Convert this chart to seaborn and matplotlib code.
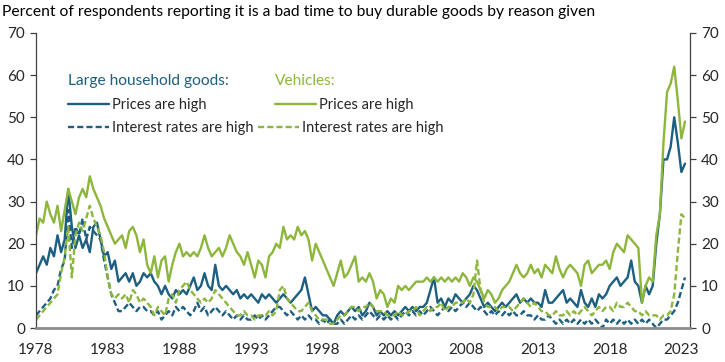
import numpy as np
import pandas as pd
import matplotlib
matplotlib.use("Agg")
import matplotlib.pyplot as plt
import seaborn as sns
from matplotlib.lines import Line2D
from matplotlib.legend import Legend

# ---------------- data (quarterly readings, 1978 Q1 .. 2023 Q2) ----------------
start_year = 1978
hh_prices = [
    13, 15, 17, 15,  19, 17, 22, 18,  21, 33, 24, 19,  22, 19, 21, 18,  24, 25, 21, 17,   # 1978-82
    18, 14, 16, 11,  12, 13, 11, 13,  10, 11, 13, 12,  13, 11, 10, 8,   10, 8, 7, 9,      # 1983-87
    8, 9, 8, 10,     12, 9, 10, 13,   10, 9, 15, 10,   9, 10, 9, 8,     9, 7, 8, 7,       # 1988-92
    8, 7, 6, 8,      7, 8, 7, 6,      7, 8, 7, 6,      7, 8, 9, 12,     8, 4, 5, 4,       # 1993-97
    3, 3, 2, 1,      3, 4, 3, 4,      5, 4, 5, 3,      4, 6, 5, 3,      4, 3, 4, 3,       # 1998-02
    4, 3, 4, 5,      4, 5, 4, 5,      5, 6, 9, 12,     6, 7, 5, 7,      6, 8, 7, 6,       # 2003-07
    7, 8, 10, 9,     7, 5, 6, 5,      4, 5, 6, 5,      6, 7, 8, 6,      7, 6, 7, 6,       # 2008-12
    6, 5, 9, 6,      6, 7, 8, 9,      6, 7, 6, 5,      9, 6, 5, 7,      5, 8, 7, 8,       # 2013-17
    10, 11, 12, 10,  11, 12, 16, 11,  10, 6, 10, 8,    10, 20, 27, 40,  40, 43, 50, 44,   # 2018-22
    37, 39,                                                                              # 2023
]
hh_rates = [
    3, 4, 5, 6,      7, 9, 10, 14,    16, 28, 19, 24,  22, 26, 21, 24,  23, 22, 21, 16,
    12, 8, 6, 4,     4, 5, 6, 5,      4, 5, 5, 4,      4, 3, 4, 2,      3, 4, 3, 5,
    4, 5, 4, 3,      4, 6, 4, 5,      3, 4, 5, 4,      3, 4, 3, 2,      3, 2, 3, 2,
    2, 3, 2, 3,      2, 3, 4, 5,      5, 4, 3, 4,      3, 2, 3, 2,      3, 2, 2, 1,
    2, 1, 2, 1,      1, 2, 1, 2,      3, 2, 3, 2,      3, 4, 3, 2,      3, 2, 3, 2,
    3, 2, 3, 4,      3, 4, 3, 4,      3, 4, 5, 4,      3, 4, 5, 4,      5, 4, 5, 6,
    5, 6, 5, 4,      5, 4, 3, 4,      3, 4, 3, 4,      3, 4, 3, 3,      4, 3, 3, 2,
    3, 2, 2, 3,      2, 1, 2, 1,      2, 1, 2, 1,      2, 1, 2, 1,      2, 1, 0, 2,
    1, 2, 1, 2,      1, 2, 1, 2,      1, 2, 1, 2,      1, 0, 1, 2,      2, 3, 4, 6,
    9, 12,
]
veh_prices = [
    22, 26, 25, 30,  27, 25, 29, 23,  28, 33, 30, 27,  31, 33, 31, 36,  33, 31, 29, 26,
    24, 22, 20, 21,  22, 19, 23, 24,  22, 18, 21, 15,  13, 17, 12, 16,  17, 11, 15, 18,
    20, 17, 18, 17,  18, 17, 19, 22,  19, 17, 18, 19,  17, 19, 22, 20,  18, 17, 15, 18,
    15, 12, 16, 15,  12, 17, 18, 20,  19, 24, 21, 22,  21, 24, 22, 23,  21, 16, 20, 18,
    16, 14, 12, 10,  13, 16, 12, 13,  15, 17, 11, 12,  11, 13, 11, 7,   9, 8, 5, 7,
    6, 10, 9, 10,    9, 10, 11, 11,   11, 12, 11, 12,  11, 12, 11, 12,  11, 12, 11, 13,
    12, 10, 12, 11,  9, 7, 9, 8,      6, 7, 9, 10,     11, 13, 15, 13,  12, 13, 15, 13,
    14, 12, 15, 14,  13, 17, 14, 12,  14, 15, 14, 13,  10, 15, 16, 13,  14, 15, 15, 16,
    14, 18, 20, 19,  18, 22, 21, 20,  19, 6, 10, 12,   11, 22, 27, 44,  56, 58, 62, 54,
    45, 49,
]
veh_rates = [
    2, 3, 4, 5,      6, 7, 8, 13,     17, 24, 12, 22,  25, 23, 26, 29,  26, 24, 22, 18,
    12, 8, 7, 8,     7, 8, 6, 9,      8, 6, 7, 6,      5, 3, 5, 4,      3, 7, 8, 6,
    9, 10, 11, 9,    8, 7, 6, 7,      6, 7, 9, 8,      7, 6, 5, 4,      3, 3, 4, 3,
    3, 2, 3, 3,      3, 4, 3, 4,      9, 10, 7, 6,     5, 4, 4, 5,      6, 4, 3, 2,
    2, 2, 1, 1,      2, 3, 3, 4,      5, 5, 4, 5,      5, 6, 5, 4,      4, 4, 3, 3,
    3, 4, 3, 3,      4, 4, 5, 3,      4, 5, 4, 5,      5, 6, 4, 5,      5, 6, 6, 6,
    7, 6, 8, 16,     9, 6, 5, 5,      5, 4, 5, 5,      5, 4, 5, 6,      7, 6, 5, 6,
    5, 4, 4, 3,      3, 4, 3, 3,      4, 3, 4, 3,      4, 5, 4, 3,      4, 5, 4, 5,
    5, 4, 6, 5,      5, 6, 5, 4,      4, 3, 4, 3,      3, 3, 2, 3,      3, 4, 8, 18,
    27, 26,
]
x_tick_years = [1978, 1983, 1988, 1993, 1998, 2003, 2008, 2013, 2018, 2023]
y_ticks = [0, 10, 20, 30, 40, 50, 60, 70]

title = "Percent of respondents reporting it is a bad time to buy durable goods by reason given"
group_titles = ["Large household goods:", "Vehicles:"]
labels = ["Prices are high", "Interest rates are high"]

n = len(hh_prices)
assert n == len(hh_rates) == len(veh_prices) == len(veh_rates)
dates = start_year + np.arange(n) / 4.0

df = pd.concat([
    pd.DataFrame({"year": dates, "value": hh_prices, "series": "hh_prices"}),
    pd.DataFrame({"year": dates, "value": hh_rates, "series": "hh_rates"}),
    pd.DataFrame({"year": dates, "value": veh_prices, "series": "veh_prices"}),
    pd.DataFrame({"year": dates, "value": veh_rates, "series": "veh_rates"}),
])

# ---------------- style ----------------
sns.set_style("white")
plt.rcParams["font.family"] = ["Lato", "DejaVu Sans"]
BLUE = "#1d5f80"
GREEN = "#8cb63c"
LW = 1.7
DASH = (0, (2.6, 1.3))

fig = plt.figure(figsize=(7.25, 3.62), dpi=100)
ax = fig.add_axes([36 / 725, 1 - 328 / 362, (690 - 36) / 725, 295 / 362])

styles = {
    "hh_prices": dict(color=BLUE, linestyle="-"),
    "hh_rates": dict(color=BLUE, linestyle=DASH),
    "veh_prices": dict(color=GREEN, linestyle="-"),
    "veh_rates": dict(color=GREEN, linestyle=DASH),
}
for key in ["hh_prices", "hh_rates", "veh_prices", "veh_rates"]:
    sns.lineplot(data=df[df["series"] == key], x="year", y="value", ax=ax,
                 lw=LW, legend=False, **styles[key])

ax.set_xlim(1978, 2023.6)
ax.set_ylim(0, 70)
ax.set_xticks(x_tick_years)
ax.set_xticklabels([str(y) for y in x_tick_years])
ax.set_yticks(y_ticks)
ax.set_xlabel("")
ax.set_ylabel("")

ax.spines["top"].set_visible(False)
for s in ["left", "right"]:
    ax.spines[s].set_color("#404040")
    ax.spines[s].set_linewidth(0.9)
ax.spines["bottom"].set_color("#8c8c8c")
ax.spines["bottom"].set_linewidth(2.0)

ax.tick_params(axis="y", which="both", left=True, right=True, labelleft=True, labelright=True,
               direction="out", length=4, width=0.9, color="#404040", labelsize=11, pad=4)
ax.tick_params(axis="x", direction="out", length=5, width=1.0, color="#8c8c8c",
               labelsize=11, pad=6)

fig.text(0.003, 1 - 12 / 362, title, fontsize=11.25, va="center", ha="left", color="black")

# ---------------- legends ----------------
def px_x(px):
    return (px - 36) / 654

def px_y(py):
    return (328 - py) / 295

def add_entry(color, ls, label, x_px, y_px, title_txt=None):
    h = [Line2D([], [], color=color, lw=LW, linestyle=ls)]
    leg = Legend(ax, h, [label], title=title_txt, loc="upper left",
                 bbox_to_anchor=(px_x(x_px), px_y(y_px)), frameon=False,
                 alignment="left", fontsize=10.5, title_fontsize=11.2,
                 handlelength=2.8, handletextpad=0.25, borderaxespad=0,
                 borderpad=0, labelspacing=0.3)
    if title_txt is not None:
        leg.get_title().set_color(color)
        leg._legend_box.sep = 7
    ax.add_artist(leg)
    return leg

add_entry(BLUE, "-", labels[0], 68, 74, group_titles[0])
add_entry(BLUE, DASH, labels[1], 68, 121)
add_entry(GREEN, "-", labels[0], 275, 74, group_titles[1])
add_entry(GREEN, DASH, labels[1], 258, 121)

fig.savefig("out.png", dpi=100)
